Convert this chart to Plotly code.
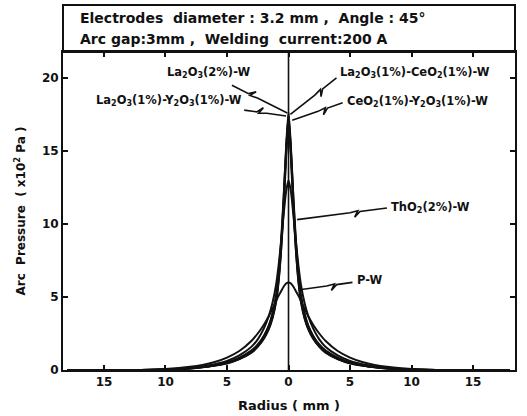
import plotly.graph_objects as go
import math

# ---------------- data ----------------
radius_half = [0, 0.2, 0.4, 0.6, 0.8, 1.0, 1.3, 1.6, 2.0, 2.5, 3.0, 4.0, 5.0, 6.0, 7.0, 8.0, 10.0, 12.0, 18.0]

la2o3_2 = [17.7, 15.2, 11.6, 8.6, 6.4, 5.0, 3.8, 3.0, 2.3, 1.7, 1.3, 0.8, 0.5, 0.32, 0.2, 0.12, 0.03, 0, 0]
la2o3_y2o3 = [17.5, 14.8, 11.2, 8.3, 6.2, 4.8, 3.6, 2.85, 2.2, 1.6, 1.2, 0.75, 0.45, 0.3, 0.18, 0.1, 0.03, 0, 0]
la2o3_ceo2 = [17.3, 15.0, 11.8, 8.9, 6.7, 5.2, 3.9, 3.05, 2.35, 1.75, 1.35, 0.85, 0.52, 0.33, 0.2, 0.12, 0.03, 0, 0]
ceo2_y2o3 = [17.0, 14.5, 11.0, 8.2, 6.1, 4.7, 3.55, 2.8, 2.15, 1.6, 1.2, 0.75, 0.47, 0.3, 0.18, 0.1, 0.03, 0, 0]
tho2 = [13.0, 12.2, 10.6, 8.8, 7.2, 5.9, 4.6, 3.7, 2.85, 2.1, 1.6, 1.0, 0.62, 0.4, 0.25, 0.15, 0.04, 0, 0]
pure_w = [6.0, 5.92, 5.7, 5.4, 5.1, 4.75, 4.2, 3.7, 3.1, 2.5, 2.0, 1.3, 0.85, 0.55, 0.35, 0.22, 0.07, 0, 0]

series_names = ["La<sub>2</sub>O<sub>3</sub>(2%)-W",
                "La<sub>2</sub>O<sub>3</sub>(1%)-Y<sub>2</sub>O<sub>3</sub>(1%)-W",
                "La<sub>2</sub>O<sub>3</sub>(1%)-CeO<sub>2</sub>(1%)-W",
                "CeO<sub>2</sub>(1%)-Y<sub>2</sub>O<sub>3</sub>(1%)-W",
                "ThO<sub>2</sub>(2%)-W",
                "P-W"]
series_values = [la2o3_2, la2o3_y2o3, la2o3_ceo2, ceo2_y2o3, tho2, pure_w]

x_ticks = [-15, -10, -5, 0, 5, 10, 15]
x_tick_labels = ["15", "10", "5", "0", "5", "10", "15"]
y_ticks = [0, 5, 10, 15, 20]

header_lines = ["Electrodes  diameter : 3.2 mm ,  Angle : 45°",
                "Arc gap:3mm ,  Welding  current:200 A"]

# label placement: (text x, text y, anchor, leader start, leader end) in data units
label_specs = [
    (-2.95, 20.35, "right", (-4.6, 19.5), (-0.1, 17.6)),
    (-3.6, 18.45, "right", (-3.6, 17.8), (-0.2, 17.4)),
    (4.0, 20.35, "left", (3.9, 20.0), (0.15, 17.5)),
    (4.6, 18.4, "left", (4.4, 18.3), (0.3, 17.1)),
    (8.2, 11.15, "left", (8.0, 11.1), (0.7, 10.3)),
    (5.4, 6.15, "left", (5.2, 6.0), (0.9, 5.5)),
]

# ---------------- figure ----------------
X0, X1 = -18.33, 18.41
Y0, Y1 = 0, 21.78
W, H = 527, 416
ML, MR, MT, MB = 63, 12, 52, 46
pw, ph = W - ML - MR, H - MT - MB
sx = pw / (X1 - X0)
sy = ph / (Y1 - Y0)

fig = go.Figure()

for name, vals in zip(series_names, series_values):
    xs = [-r for r in reversed(radius_half[1:])] + radius_half
    ys = list(reversed(vals[1:])) + vals
    fig.add_trace(go.Scatter(x=xs, y=ys, mode="lines", name=name,
                             line=dict(color="#111111", width=2, shape="spline", smoothing=0.6),
                             hoverinfo="skip", showlegend=False))

font = dict(family="DejaVu Sans", size=11.5, color="#111111")
shapes = []
annotations = []

for (name, (tx, ty, anc, (sx0, sy0), (ex, ey))) in zip(series_names, label_specs):
    annotations.append(dict(x=tx, y=ty, xref="x", yref="y", text="<b>" + name + "</b>",
                            showarrow=False, xanchor=anc, yanchor="middle", font=font))
    # leader with zigzag, computed in pixel space
    px0, py0 = sx0 * sx, sy0 * sy
    px1, py1 = ex * sx, ey * sy
    dx, dy = px1 - px0, py1 - py0
    L = math.hypot(dx, dy)
    ux, uy = dx / L, dy / L
    nx, ny = -uy, ux
    def P(t, off=0.0):
        return (px0 + dx * t + nx * off, py0 + dy * t + ny * off)
    a = 0.3
    pts = [P(0), P(a), P(a + 6 / L, 5), P(a + 2 / L, -1), P(a + 10 / L, 0), P(1)]
    path = ""
    for i, (qx, qy) in enumerate(pts):
        path += ("M" if i == 0 else " L") + f"{qx / sx:.4f},{qy / sy:.4f}"
    shapes.append(dict(type="path", path=path, xref="x", yref="y",
                       line=dict(color="#111111", width=1.6)))

# vertical centre line
shapes.append(dict(type="line", x0=0, x1=0, y0=0, y1=1, xref="x", yref="paper",
                   line=dict(color="#111111", width=1.6)))
# header box
hb = 47 / ph
shapes.append(dict(type="rect", x0=0, x1=1, y0=1, y1=1 + hb, xref="paper", yref="paper",
                   line=dict(color="#111111", width=2)))
annotations.append(dict(x=0.033, y=1 + hb * 0.72, xref="paper", yref="paper",
                        text="<b>" + header_lines[0] + "</b>", showarrow=False,
                        xanchor="left", yanchor="middle",
                        font=dict(family="DejaVu Sans", size=14, color="#111111")))
annotations.append(dict(x=0.033, y=1 + hb * 0.27, xref="paper", yref="paper",
                        text="<b>" + header_lines[1] + "</b>", showarrow=False,
                        xanchor="left", yanchor="middle",
                        font=dict(family="DejaVu Sans", size=14, color="#111111")))

fig.update_layout(
    width=W, height=H,
    margin=dict(l=ML, r=MR, t=MT, b=MB, autoexpand=False),
    paper_bgcolor="white", plot_bgcolor="white",
    shapes=shapes, annotations=annotations,
    font=dict(family="DejaVu Sans", size=12, color="#111111"),
)
fig.update_xaxes(range=[X0, X1], tickvals=x_ticks, ticktext=["<b>%s</b>" % t for t in x_tick_labels],
                 ticks="inside", ticklen=5, tickwidth=2, tickcolor="#111111",
                 showline=True, linecolor="#111111", linewidth=2, mirror="ticks",
                 showgrid=False, zeroline=False, automargin=False,
                 title=dict(text="<b>Radius ( mm )</b>", standoff=12, font=dict(size=13)),
                 tickfont=dict(size=12))
fig.update_yaxes(range=[Y0, Y1], tickvals=y_ticks, ticktext=["<b>%d</b>" % t for t in y_ticks],
                 ticks="inside", ticklen=5, tickwidth=2, tickcolor="#111111",
                 showline=True, linecolor="#111111", linewidth=2, mirror="ticks",
                 showgrid=False, zeroline=False, automargin=False,
                 title=dict(text="<b>Arc  Pressure  ( x10<sup>2</sup> Pa )</b>", standoff=14, font=dict(size=12)),
                 tickfont=dict(size=12))

fig.write_html("out.html")
